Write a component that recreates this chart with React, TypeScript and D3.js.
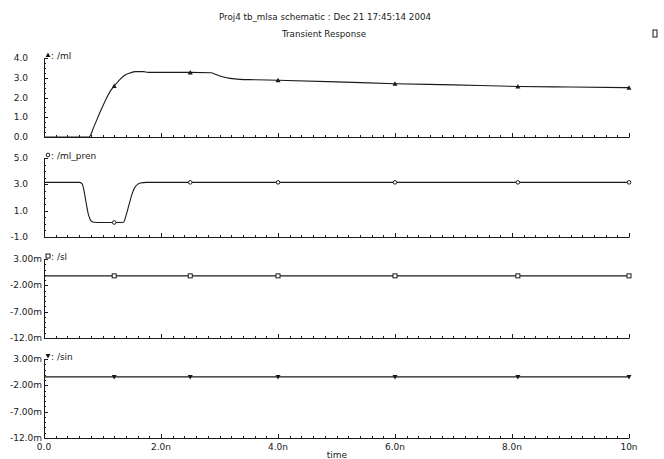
import React, { useRef, useEffect } from 'react';
import * as d3 from 'd3';

// time axis (ns)
const xTickValues = [0, 2, 4, 6, 8, 10];
const xTickLabels = ['0.0', '2.0n', '4.0n', '6.0n', '8.0n', '10n'];
const markerTimes = [1.2, 2.5, 4.0, 6.0, 8.1, 10];

// /ml
const mlTime = [0, 0.77, 0.85, 0.95, 1.05, 1.15, 1.2, 1.3, 1.38, 1.47, 1.56, 1.7, 1.78, 2.5, 2.85, 2.95, 3.05, 3.18, 3.35, 3.6, 4.0, 5.0, 6.0, 7.0, 8.1, 9.0, 10];
const mlValue = [0, 0, 0.5, 1.2, 1.85, 2.4, 2.58, 2.92, 3.13, 3.24, 3.31, 3.31, 3.27, 3.27, 3.25, 3.15, 3.05, 2.97, 2.92, 2.9, 2.87, 2.79, 2.7, 2.64, 2.56, 2.53, 2.5];
const mlMarkers = [2.58, 3.27, 2.87, 2.7, 2.56, 2.5];

// /ml_pren
const prenTime = [0, 0.6, 0.65, 0.68, 0.72, 0.76, 0.8, 0.85, 1.0, 1.2, 1.36, 1.4, 1.45, 1.5, 1.55, 1.6, 1.65, 1.75, 10];
const prenValue = [3.15, 3.15, 3.05, 2.6, 1.6, 0.7, 0.25, 0.12, 0.1, 0.1, 0.12, 0.6, 1.4, 2.2, 2.75, 3.0, 3.1, 3.15, 3.15];
const prenMarkers = [0.1, 3.15, 3.15, 3.15, 3.15, 3.15];

// /sl and /sin (volts)
const slTime = [0, 10];
const slValue = [-0.0002, -0.0002];
const slMarkers = [-0.0002, -0.0002, -0.0002, -0.0002, -0.0002, -0.0002];
const sinTime = [0, 10];
const sinValue = [-0.0004, -0.0004];
const sinMarkers = [-0.0004, -0.0004, -0.0004, -0.0004, -0.0004, -0.0004];

interface Panel {
  name: string;
  marker: 'up' | 'circle' | 'square' | 'down';
  t: number[];
  v: number[];
  mk: number[];
  domain: [number, number];
  major: number[];
  majorLabels: string[];
  minorStep: number;
  labelRight: number;
  top: number;
}

const panels: Panel[] = [
  { name: ': /ml', marker: 'up', t: mlTime, v: mlValue, mk: mlMarkers, domain: [0, 4],
    major: [0, 1, 2, 3, 4], majorLabels: ['0.0', '1.0', '2.0', '3.0', '4.0'], minorStep: 0.25, labelRight: 28, top: 58 },
  { name: ': /ml_pren', marker: 'circle', t: prenTime, v: prenValue, mk: prenMarkers, domain: [-1, 5],
    major: [-1, 1, 3, 5], majorLabels: ['-1.0', '1.0', '3.0', '5.0'], minorStep: 0.5, labelRight: 28, top: 158 },
  { name: ': /sl', marker: 'square', t: slTime, v: slValue, mk: slMarkers, domain: [-0.012, 0.003],
    major: [-0.012, -0.007, -0.002, 0.003], majorLabels: ['-12.0m', '-7.00m', '-2.00m', '3.00m'], minorStep: 0.001, labelRight: 42, top: 259 },
  { name: ': /sin', marker: 'down', t: sinTime, v: sinValue, mk: sinMarkers, domain: [-0.012, 0.003],
    major: [-0.012, -0.007, -0.002, 0.003], majorLabels: ['-12.0m', '-7.00m', '-2.00m', '3.00m'], minorStep: 0.001, labelRight: 42, top: 359 },
];

const W = 664;
const H = 459;
const panelH = 79;
const ink = '#1a1a1a';
const font = 'DejaVu Sans, sans-serif';

function drawMarker(g: d3.Selection<SVGGElement, unknown, null, undefined>, kind: string, x: number, y: number) {
  if (kind === 'up') {
    g.append('path').attr('d', `M${x},${y - 2.5}L${x + 2.5},${y + 2}L${x - 2.5},${y + 2}Z`).attr('fill', ink);
  } else if (kind === 'down') {
    g.append('path').attr('d', `M${x - 2.5},${y - 2}L${x + 2.5},${y - 2}L${x},${y + 2.5}Z`).attr('fill', ink);
  } else if (kind === 'circle') {
    g.append('circle').attr('cx', x).attr('cy', y).attr('r', 1.8).attr('fill', 'white').attr('stroke', ink).attr('stroke-width', 1);
  } else {
    g.append('rect').attr('x', x - 2).attr('y', y - 2).attr('width', 4).attr('height', 4)
      .attr('fill', 'white').attr('stroke', ink).attr('stroke-width', 1);
  }
}

const App: React.FC = () => {
  const svgRef = useRef<SVGSVGElement>(null);

  useEffect(() => {
    if (!svgRef.current) return;
    const svg = d3.select(svgRef.current);
    svg.selectAll('*').remove();

    const x = d3.scaleLinear().domain([0, 10]).range([44, 629]);

    svg.append('rect').attr('width', W).attr('height', H).attr('fill', 'white');

    svg.append('text').attr('x', 325).attr('y', 20).attr('text-anchor', 'middle')
      .attr('font-family', font).attr('font-size', 8.5).attr('fill', ink)
      .attr('textLength', 212).attr('lengthAdjust', 'spacingAndGlyphs')
      .text('Proj4 tb_mlsa schematic : Dec 21 17:45:14 2004');
    svg.append('text').attr('x', 324).attr('y', 37).attr('text-anchor', 'middle')
      .attr('font-family', font).attr('font-size', 8.5).attr('fill', ink)
      .attr('textLength', 84).attr('lengthAdjust', 'spacingAndGlyphs')
      .text('Transient Response');
    svg.append('rect').attr('x', 653).attr('y', 30).attr('width', 4).attr('height', 7)
      .attr('fill', 'none').attr('stroke', ink).attr('stroke-width', 1);

    const minorX = d3.range(0, 10.0001, 0.2);

    panels.forEach((p, pi) => {
      const y = d3.scaleLinear().domain(p.domain).range([p.top + panelH, p.top]);
      const g = svg.append('g');
      const bottom = p.top + panelH;

      // axes
      g.append('line').attr('x1', 44).attr('x2', 629.5).attr('y1', bottom + 0.5).attr('y2', bottom + 0.5)
        .attr('stroke', ink).attr('stroke-width', 1);
      g.append('line').attr('x1', 44.5).attr('x2', 44.5).attr('y1', p.top).attr('y2', bottom + 0.5)
        .attr('stroke', ink).attr('stroke-width', 1);

      g.selectAll('line.xminor').data(minorX).join('line')
        .attr('x1', d => Math.round(x(d)) + 0.5).attr('x2', d => Math.round(x(d)) + 0.5)
        .attr('y1', bottom).attr('y2', d => bottom - (xTickValues.some(v => Math.abs(v - d) < 1e-6) ? 4 : 2))
        .attr('stroke', ink).attr('stroke-width', 1);

      const minorY = d3.range(p.domain[0], p.domain[1] + p.minorStep / 2, p.minorStep);
      g.selectAll('line.yminor').data(minorY).join('line')
        .attr('x1', 44).attr('x2', d => 44 + (p.major.some(v => Math.abs(v - d) < p.minorStep / 10) ? 4 : 2))
        .attr('y1', d => Math.round(y(d)) + 0.5).attr('y2', d => Math.round(y(d)) + 0.5)
        .attr('stroke', ink).attr('stroke-width', 1);

      g.selectAll('text.ylab').data(p.major).join('text')
        .attr('x', p.labelRight).attr('y', d => y(d) + 3)
        .attr('text-anchor', 'end').attr('font-family', font).attr('font-size', 9).attr('fill', ink)
        .text((d, i) => p.majorLabels[i]);

      // legend
      drawMarker(g, p.marker, 48, p.top - 3);
      g.append('text').attr('x', 51).attr('y', p.top + 0.5)
        .attr('font-family', font).attr('font-size', 9).attr('fill', ink).text(p.name);

      // curve
      const pts = p.t.map((t, i) => [t, p.v[i]] as [number, number]);
      const line = d3.line<[number, number]>().x(d => x(d[0])).y(d => y(d[1])).curve(d3.curveMonotoneX);
      g.append('path').datum(pts).attr('d', line).attr('fill', 'none')
        .attr('stroke', ink).attr('stroke-width', 1.1);

      markerTimes.forEach((t, i) => drawMarker(g, p.marker, x(t), y(p.mk[i])));

      if (pi === panels.length - 1) {
        g.selectAll('text.xlab').data(xTickValues).join('text')
          .attr('x', d => x(d)).attr('y', bottom + 12)
          .attr('text-anchor', 'middle').attr('font-family', font).attr('font-size', 9).attr('fill', ink)
          .text((d, i) => xTickLabels[i]);
        g.append('text').attr('x', 337).attr('y', bottom + 19.5).attr('text-anchor', 'middle')
          .attr('font-family', font).attr('font-size', 9).attr('fill', ink).text('time');
      }
    });
  }, []);

  return (
    <svg ref={svgRef} width={W} height={H} style={{ position: 'absolute', left: 0, top: 0, display: 'block' }}></svg>
  );
};

export default App;
